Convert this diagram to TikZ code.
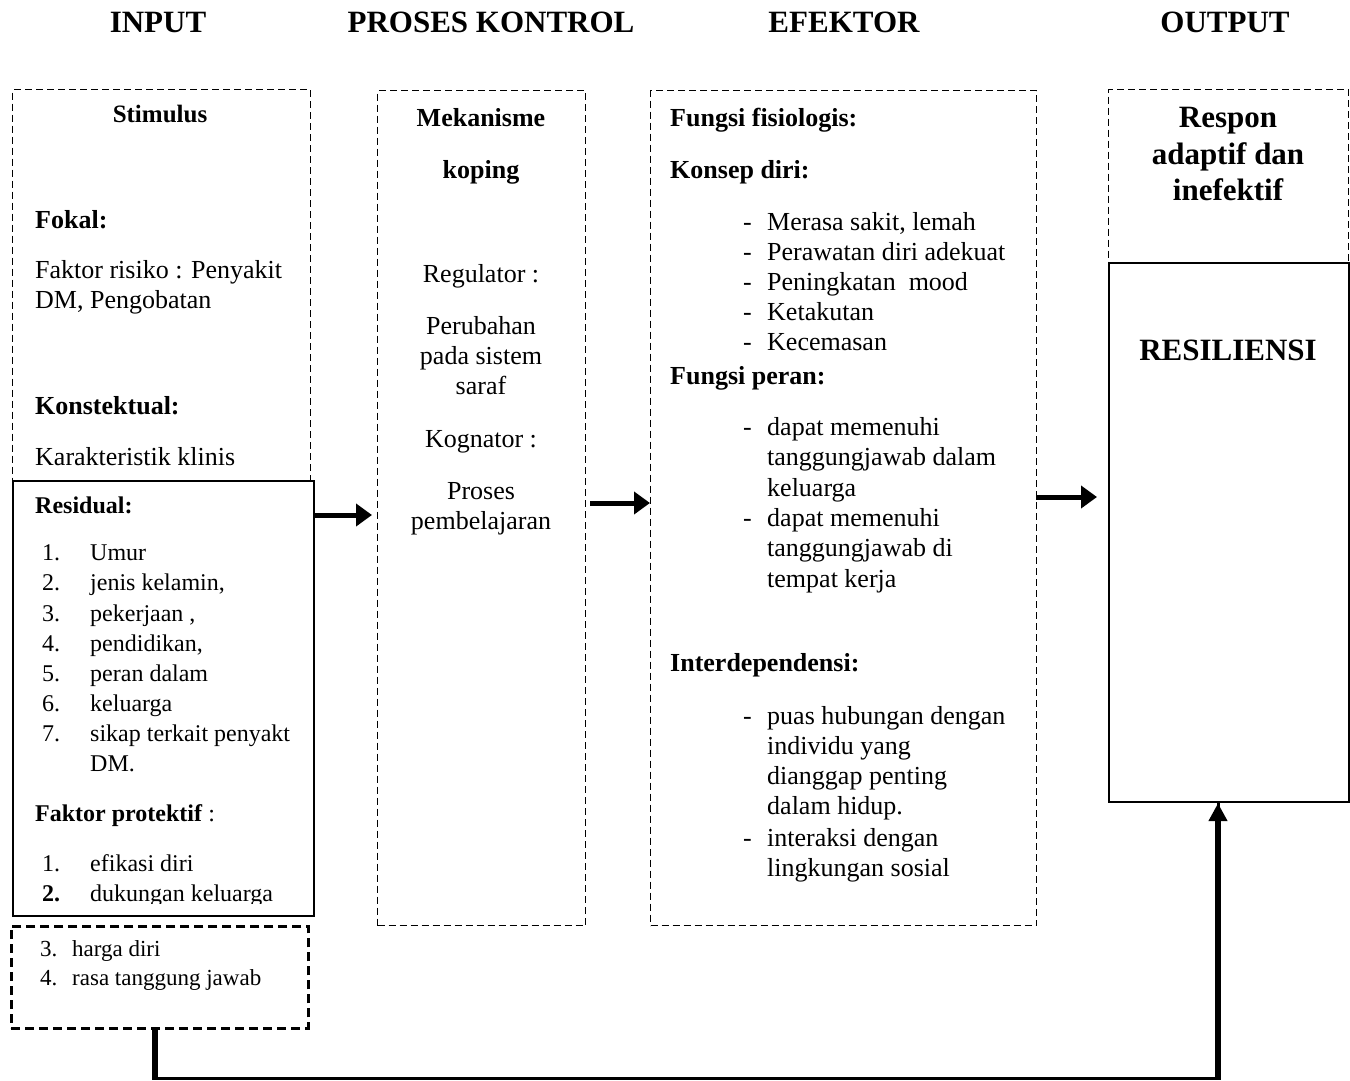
\documentclass[tikz,border=0pt]{standalone}
\usepackage{fontspec}
\setmainfont{Liberation Serif}
\usetikzlibrary{arrows.meta}
\begin{document}
\begin{tikzpicture}[x=1pt,y=-1pt,
  txt/.style={anchor=base west, inner sep=0pt, font=\fontsize{26}{30}\selectfont},
  ctxt/.style={anchor=base, inner sep=0pt, font=\fontsize{26}{30}\selectfont},
  stxt/.style={anchor=base west, inner sep=0pt, font=\fontsize{24}{28}\selectfont},
  xtxt/.style={anchor=base west, inner sep=0pt, font=\fontsize{23}{27}\selectfont},
  otxt/.style={anchor=base, inner sep=0pt, font=\fontsize{31}{36}\selectfont\bfseries},
  title/.style={anchor=center, inner sep=0pt, font=\fontsize{31}{36}\selectfont\bfseries},
  dbox/.style={draw, line width=1.4pt, dash pattern=on 7pt off 4pt, anchor=north west, inner sep=0pt},
  thickdbox/.style={draw, line width=2.6pt, dash pattern=on 9pt off 5pt, anchor=north west, inner sep=0pt},
  sbox/.style={draw, line width=2.2pt, anchor=north west, inner sep=0pt},
  arr/.style={line width=5pt, -{Triangle[length=16pt,width=22pt]}}
]
\useasboundingbox (0,0) rectangle (1350,1081);

% titles
\node[title] (tin) at (158,22) {INPUT};
\node[title] (tpk) at (491,22) {PROSES KONTROL};
\node[title] (tef) at (844,22) {EFEKTOR};
\node[title] (tout) at (1225,22) {OUTPUT};

% boxes
\node[dbox, minimum width=298pt, minimum height=391pt] (stim) at (12,89) {};
\node[sbox, fill=white, minimum width=301pt, minimum height=435pt] (resid) at (12,480) {};
\node[thickdbox, minimum width=297pt, minimum height=102pt] (small) at (10,925) {};
\node[dbox, minimum width=208pt, minimum height=835pt] (proc) at (377,90) {};
\node[dbox, minimum width=386pt, minimum height=835pt] (efek) at (650,90) {};
\node[dbox, minimum width=240pt, minimum height=173pt] (resp) at (1108,89) {};
\node[sbox, fill=white, minimum width=240pt, minimum height=539pt] (resil) at (1108,262) {};

% INPUT texts
\node[ctxt, font=\fontsize{25}{30}\selectfont\bfseries] (s1) at (160,122) {Stimulus};
\node[txt, font=\fontsize{26}{30}\selectfont\bfseries] (s2) at (35,228) {Fokal:};
\node[txt] (s3) at (35,278) {Faktor risiko : Penyakit};
\node[txt] (s4) at (35,308) {DM, Pengobatan};
\node[txt, font=\fontsize{26}{30}\selectfont\bfseries] (s5) at (35,414) {Konstektual:};
\node[txt] (s6) at (35,465) {Karakteristik klinis};

\begin{scope}
\clip (13,481) rectangle (312,903);
\node[stxt, font=\fontsize{24}{28}\selectfont\bfseries] (r0) at (35,513) {Residual:};
\foreach \n/\t/\y in {1/Umur/560, 2/{jenis kelamin,}/590, 3/{pekerjaan ,}/621, 4/{pendidikan,}/651, 5/{peran dalam}/681, 6/keluarga/711, 7/{sikap terkait penyakt}/741}{
  \node[stxt] (rn\n) at (42,\y) {\n.};
  \node[stxt] (rt\n) at (90,\y) {\t};
}
\node[stxt] (rt8) at (90,771) {DM.};
\node[stxt] (fp) at (35,821) {\textbf{Faktor protektif} :};
\node[stxt] (fn1) at (42,871) {1.};
\node[stxt] (ft1) at (90,871) {efikasi diri};
\node[stxt] (fn2) at (42,901) {\textbf{2.}};
\node[stxt] (ft2) at (90,901) {dukungan keluarga};
\end{scope}

\node[xtxt] (hn3) at (40,956) {3.};
\node[xtxt] (ht3) at (72,956) {harga diri};
\node[xtxt] (hn4) at (40,985) {4.};
\node[xtxt] (ht4) at (72,985) {rasa tanggung jawab};

% PROSES KONTROL texts
\node[ctxt, font=\fontsize{26}{30}\selectfont\bfseries] (p1) at (481,126) {Mekanisme};
\node[ctxt, font=\fontsize{26}{30}\selectfont\bfseries] (p2) at (481,178) {koping};
\node[ctxt] (p3) at (481,282) {Regulator :};
\node[ctxt] (p4) at (481,334) {Perubahan};
\node[ctxt] (p5) at (481,364) {pada sistem};
\node[ctxt] (p6) at (481,394) {saraf};
\node[ctxt] (p7) at (481,447) {Kognator :};
\node[ctxt] (p8) at (481,499) {Proses};
\node[ctxt] (p9) at (481,529) {pembelajaran};

% EFEKTOR texts
\node[txt, font=\fontsize{26}{30}\selectfont\bfseries] (e1) at (670,126) {Fungsi fisiologis:};
\node[txt, font=\fontsize{26}{30}\selectfont\bfseries] (e2) at (670,178) {Konsep diri:};
\foreach \i/\t/\y in {1/{Merasa sakit, lemah}/230, 2/{Perawatan diri adekuat}/260, 3/{Peningkatan\ \ mood}/290, 4/Ketakutan/320, 5/Kecemasan/350}{
  \node[txt] (kd\i) at (743,\y) {-};
  \node[txt] (kt\i) at (767,\y) {\t};
}
\node[txt, font=\fontsize{26}{30}\selectfont\bfseries] (e3) at (670,384) {Fungsi peran:};
\node[txt] (fd1) at (743,435) {-};
\node[txt] (fr1) at (767,435) {dapat memenuhi};
\node[txt] (fr2) at (767,465) {tanggungjawab dalam};
\node[txt] (fr3) at (767,496) {keluarga};
\node[txt] (fd2) at (743,526) {-};
\node[txt] (fr4) at (767,526) {dapat memenuhi};
\node[txt] (fr5) at (767,556) {tanggungjawab di};
\node[txt] (fr6) at (767,587) {tempat kerja};
\node[txt, font=\fontsize{26}{30}\selectfont\bfseries] (e4) at (670,671) {Interdependensi:};
\node[txt] (id1) at (743,724) {-};
\node[txt] (ir1) at (767,724) {puas hubungan dengan};
\node[txt] (ir2) at (767,754) {individu yang};
\node[txt] (ir3) at (767,784) {dianggap penting};
\node[txt] (ir4) at (767,814) {dalam hidup.};
\node[txt] (id2) at (743,846) {-};
\node[txt] (ir5) at (767,846) {interaksi dengan};
\node[txt] (ir6) at (767,876) {lingkungan sosial};

% OUTPUT texts
\node[otxt] (o1) at (1228,127) {Respon};
\node[otxt] (o2) at (1228,164) {adaptif dan};
\node[otxt] (o3) at (1228,200) {inefektif};
\node[title] (o4) at (1228,350) {RESILIENSI};

% arrows
\coordinate (a1) at (372,515);
\draw[arr] (resid.east |- a1) -- (a1);
\coordinate (a2s) at (590,503);
\draw[arr] (a2s) -- (efek.west |- a2s);
\coordinate (a3s) at (1036,497);
\coordinate (a3e) at (1097,497);
\draw[arr] (a3s) -- (a3e);

% feedback
\coordinate (c1) at (155,1078);
\coordinate (c2) at (1218,1078);
\draw[line width=3pt, line join=miter] (small.south -| c1) -- (c1) -- (c2) -- (c2 |- resil.south);
\draw[line width=6pt] (small.south -| c1) -- ([yshift=-1.5pt]c1);
\draw[line width=6pt, -{Triangle[length=18pt,width=18pt]}] ([yshift=-1.5pt]c2) -- (c2 |- resil.south);
\end{tikzpicture}
\end{document}
